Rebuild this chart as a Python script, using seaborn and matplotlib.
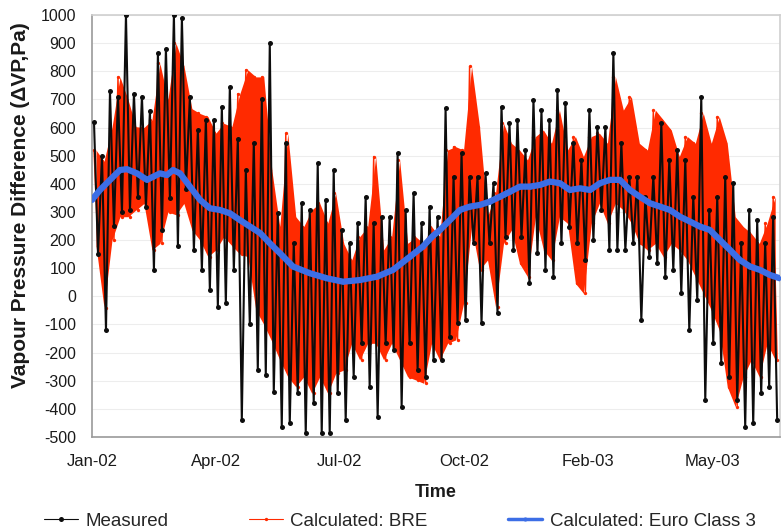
import numpy as np
import pandas as pd
import matplotlib
matplotlib.use("Agg")
import matplotlib.pyplot as plt
import seaborn as sns

# ---------------- data ----------------
tick_labels = ["Jan-02", "Apr-02", "Jul-02", "Oct-02", "Feb-03", "May-03"]
tick_days = [0, 90, 180, 270, 360, 450]

# envelope of the dense series, one high/low pair per ~5.8-day window
seg_start = 2.9
seg_step = 5.8

meas_hi = [620, 500, 730, 710, 1000, 720, 710, 660, 864, 880, 1000, 990, 710, 591, 627, 627,
           674, 745, 560, 449, 544, 700, 900, 295, 544, 188, 331, 307, 473, 343, 449, 236,
           188, 260, 354, 260, 283, 283, 508, 307, 366, 260, 319, 283, 668, 425, 508, 425,
           425, 437, 402, 674, 615, 627, 520, 698, 662, 627, 734, 686, 544, 485, 662, 603,
           603, 864, 544, 425, 425, 354, 425, 615, 485, 520, 485, 354, 710, 307, 354, 425,
           402, 188, 307, 271, 188, 283]
meas_lo = [150, -120, 250, 300, 307, 354, 319, 94, 236, 350, 180, 380, 165, 94, 23, -37,
           -25, 94, -440, -100, -262, -280, -340, -463, -452, -345, -487, -380, -487, -487, -345, -440,
           -285, -167, -321, -428, -167, -191, -392, -167, -262, -285, -226, -226, -143, -96, -84, 188,
           -96, 188, -60, 212, 165, 212, 46, 153, 94, 70, 188, 248, 188, 129, 200, 307,
           165, 165, 165, 188, -84, 141, 117, 70, 94, 11, -120, -13, -369, -167, -238, -286,
           -369, -463, -452, -345, -321, -440]
bre_hi = [520, 480, 600, 780, 700, 603, 600, 627, 828, 700, 900, 820, 667, 650, 639, 580,
          615, 603, 720, 805, 780, 780, 450, 248, 579, 283, 248, 307, 331, 260, 366, 188,
          129, 212, 248, 497, 165, 212, 485, 188, 212, 188, 248, 212, 520, 532, 520, 817,
          603, 283, 366, 615, 544, 520, 485, 568, 591, 544, 662, 520, 568, 497, 568, 580,
          544, 781, 662, 710, 544, 520, 662, 627, 591, 497, 568, 544, 651, 544, 639, 544,
          283, 248, 224, 188, 260, 354]
bre_lo = [180, -40, 200, 283, 283, 307, 330, 165, 188, 300, 290, 330, 236, 200, 141, 165,
          212, 180, 150, 141, -49, -100, -160, -226, -286, -321, -286, -345, -286, -345, -274, -262,
          -167, -226, -167, -167, -226, -167, -226, -286, -297, -309, -167, -226, -167, -155, -25, 248,
          94, 129, -37, 188, 236, 117, 70, 283, 165, 129, 283, 260, 46, 11, 260, 331,
          260, 331, 307, 260, 188, 165, 188, 141, 188, 165, 129, 70, 11, -49, -120, -321,
          -392, -286, -226, -286, -167, -226]

euro_day = [0, 5.8, 13.1, 20.3, 25.4, 32.7, 39.9, 44.3, 49.4, 54.4, 58.8, 63.9, 71.1, 78.4,
            85.6, 92.9, 100.2, 107.4, 114.7, 122.0, 129.2, 136.5, 145.9, 158.2, 170.6, 182.2,
            194.5, 206.9, 218.5, 230.8, 240.2, 247.5, 252.6, 259.8, 267.1, 274.4, 281.6, 288.9,
            296.1, 303.4, 310.6, 317.9, 325.2, 332.4, 339.7, 346.9, 354.2, 361.5, 368.7, 376.0,
            383.2, 390.5, 397.7, 405.0, 412.3, 419.5, 426.8, 434.0, 441.3, 448.5, 455.8, 463.1,
            470.3, 477.6, 484.8, 492.1, 499.4]
euro_val = [343, 378, 414, 449, 452, 437, 414, 425, 437, 431, 449, 437, 390, 343,
            313, 307, 295, 271, 248, 225, 188, 153, 106, 82, 64, 52,
            58, 70, 94, 141, 177, 215, 236, 271, 307, 319, 325, 337,
            354, 372, 390, 390, 396, 408, 402, 378, 384, 378, 402, 414,
            414, 378, 354, 331, 319, 307, 283, 266, 248, 236, 200, 165,
            129, 106, 94, 76, 64]

seg_day = seg_start + seg_step * np.arange(len(meas_hi))


def zigzag(hi, lo):
    x = np.column_stack([seg_day - seg_step / 4, seg_day + seg_step / 4]).ravel()
    y = np.column_stack([hi, lo]).ravel()
    return pd.DataFrame({"day": x, "vp": y})


df_meas = zigzag(meas_hi, meas_lo)
df_bre = zigzag(bre_hi, bre_lo)
df_euro = pd.DataFrame({"day": euro_day, "vp": euro_val})

BLACK = "#0d0d0d"
RED = "#ff2a00"
BLUE = "#3c6ee6"

# ---------------- style ----------------
sns.set_theme(style="white")
plt.rcParams['font.family'] = ['Liberation Sans', 'DejaVu Sans']
plt.rcParams['axes.unicode_minus'] = False

fig = plt.figure(figsize=(7.84, 5.31), dpi=100)
ax = fig.add_axes([92 / 784, 94 / 531, 688 / 784, 422 / 531])

# dense red band (BRE) plus its trace
ax.fill_between(seg_day, bre_lo, bre_hi, color=RED, lw=0, zorder=3)
sns.lineplot(data=df_bre, x="day", y="vp", ax=ax, color=RED, lw=1.0,
             marker="o", markersize=2.4, markeredgewidth=0, sort=False,
             estimator=None, label="Calculated: BRE", zorder=4)
# measured trace over it
sns.lineplot(data=df_meas, x="day", y="vp", ax=ax, color=BLACK, lw=1.5,
             marker="o", markersize=3.6, markeredgewidth=0, sort=False,
             estimator=None, label="Measured", zorder=5)
sns.lineplot(data=df_euro, x="day", y="vp", ax=ax, color=BLUE, lw=4.5,
             marker="o", markersize=3, markeredgewidth=0, sort=False,
             estimator=None, label="Calculated: Euro Class 3", zorder=6)

ax.set_xlim(0, 499.4)
ax.set_ylim(-500, 1000)
ax.set_yticks(np.arange(-500, 1001, 100))
ax.set_xticks(tick_days)
ax.set_xticklabels(tick_labels)
ax.yaxis.grid(True, color="#ededed", lw=0.8)
ax.xaxis.grid(False)
ax.set_axisbelow(True)

for s in ["left", "bottom"]:
    ax.spines[s].set_color("#9a9a9a")
for s in ["top", "right"]:
    ax.spines[s].set_color("#cfcfcf")
for s in ax.spines.values():
    s.set_linewidth(1.2)

ax.tick_params(axis="both", colors="#9a9a9a", labelcolor="#1a1a1a",
               direction="out", length=4, width=1)
ax.tick_params(axis="y", labelsize=11.5, pad=7.5)
ax.tick_params(axis="x", labelsize=12, pad=8)

ax.set_ylabel("Vapour Pressure Difference (\u0394VP,Pa)", fontsize=15,
              fontweight="bold", color="#1a1a1a")
ax.yaxis.set_label_coords(-0.09, 0.55)
ax.set_xlabel("Time", fontsize=13, fontweight="bold", color="#1a1a1a")
ax.xaxis.set_label_coords(0.5, -0.112)

handles, labels = ax.get_legend_handles_labels()
order = [labels.index("Measured"), labels.index("Calculated: BRE"),
         labels.index("Calculated: Euro Class 3")]
ax.get_legend().remove()
leg = fig.legend([handles[i] for i in order], [labels[i] for i in order],
                 loc="center", bbox_to_anchor=(0.51, 0.018), ncol=3,
                 frameon=False, fontsize=13.5, columnspacing=4.3, handlelength=1.8,
                 handletextpad=0.4)
for line, w in zip(leg.get_lines(), [0.8, 0.8, 2.5]):
    line.set_linewidth(w)

fig.savefig("out.png", dpi=100)
